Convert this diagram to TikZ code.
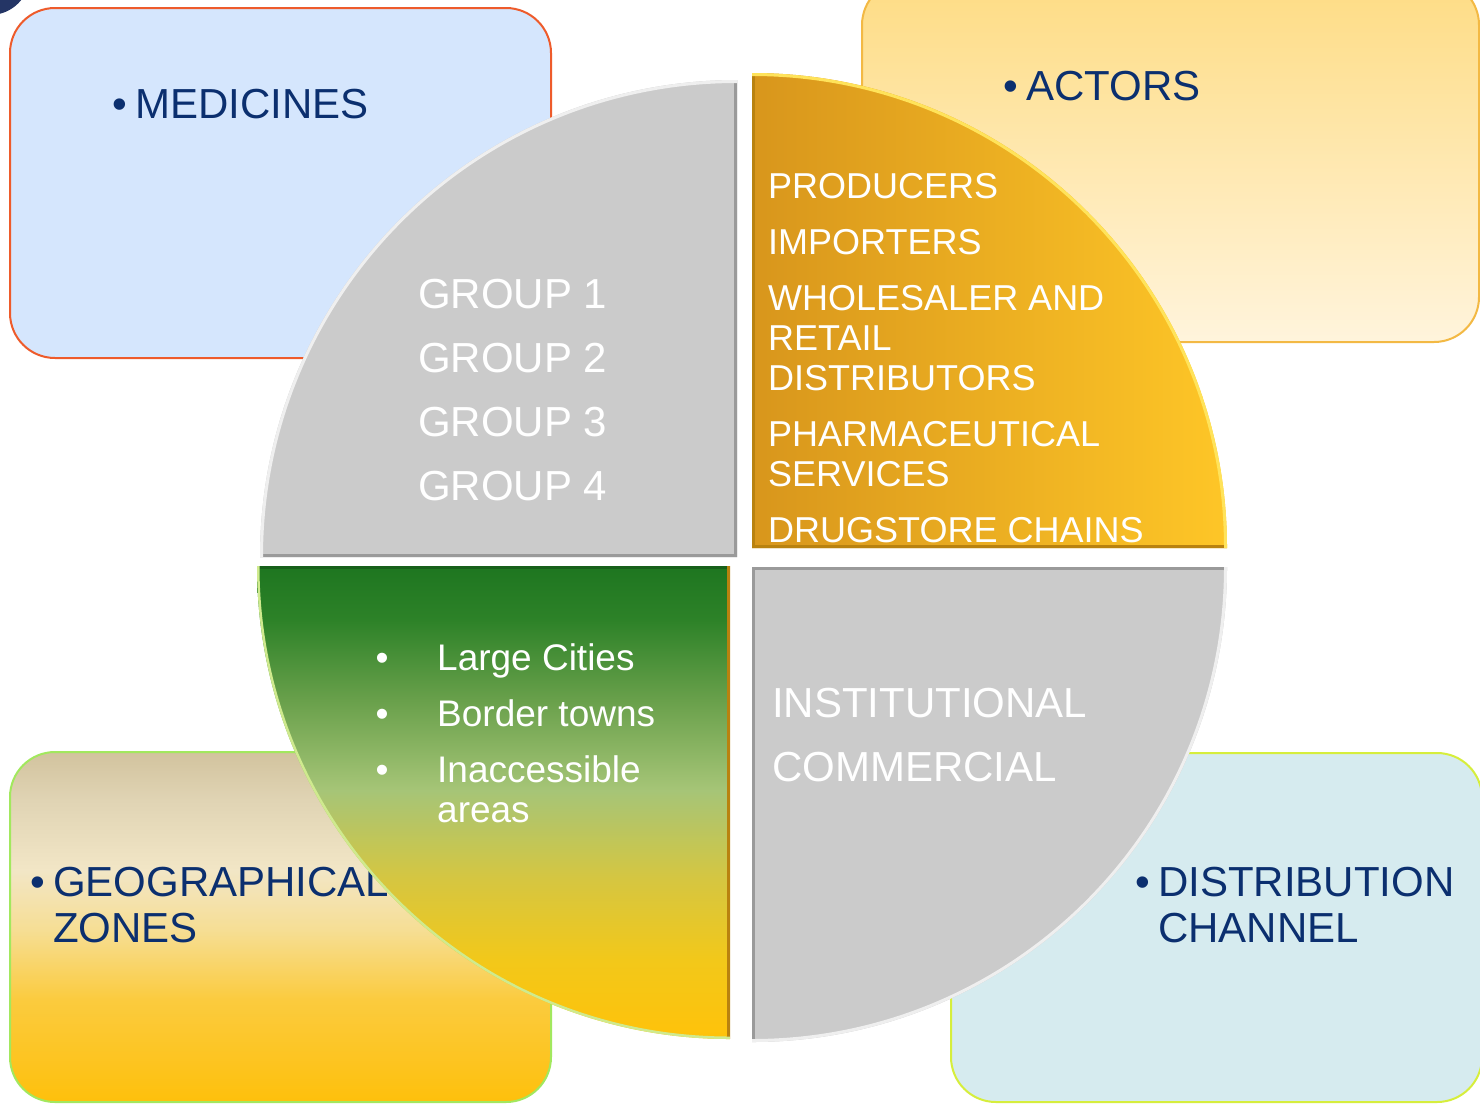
\documentclass[tikz,border=0pt]{standalone}
\usepackage{fontspec}
\setmainfont{Liberation Sans}
\usepackage{xcolor}
\usepackage{tikz}

\definecolor{navytext}{HTML}{0B2F6F}
\definecolor{medfill}{HTML}{D5E6FD}
\definecolor{medline}{HTML}{EE5B2B}
\definecolor{actline}{HTML}{F3B944}
\definecolor{acttop}{HTML}{FEDC84}
\definecolor{actbot}{HTML}{FFF4DC}
\definecolor{geoline}{HTML}{A2E85E}
\definecolor{distfill}{HTML}{D6EBEF}
\definecolor{distline}{HTML}{D6EE3C}
\definecolor{qgray}{HTML}{CBCBCB}
\definecolor{qgraydark}{HTML}{9A9A9A}
\definecolor{qgraylight}{HTML}{EFEFEF}
\definecolor{orleft}{HTML}{D8961C}
\definecolor{orright}{HTML}{FEC627}
\definecolor{ordark}{HTML}{B9820F}
\definecolor{orlight}{HTML}{FFE35A}
\definecolor{grdark}{HTML}{17601A}
\definecolor{grlight}{HTML}{CFEA8E}
\definecolor{cornerblue}{HTML}{243565}

\definecolor{geoA}{HTML}{FEC00C}
\definecolor{geoB}{HTML}{FBCB3E}
\definecolor{geoC}{HTML}{F6DE94}
\definecolor{geoD}{HTML}{F2E6C6}
\definecolor{geoE}{HTML}{E0D4B4}
\definecolor{geoF}{HTML}{D2C39E}
\pgfdeclareverticalshading{geoshade}{100bp}{color(0bp)=(geoA); color(25bp)=(geoA);
  color(39.6bp)=(geoB); color(49.6bp)=(geoC); color(58.1bp)=(geoD);
  color(68.1bp)=(geoE); color(75bp)=(geoF); color(100bp)=(geoF)}

\definecolor{grA}{HTML}{FFC20A}
\definecolor{grB}{HTML}{F2C81A}
\definecolor{grC}{HTML}{D6C640}
\definecolor{grD}{HTML}{A6C577}
\definecolor{grE}{HTML}{69A04B}
\definecolor{grF}{HTML}{2D8228}
\definecolor{grG}{HTML}{1E7620}
\pgfdeclareverticalshading{greenshade}{100bp}{color(0bp)=(grA); color(25bp)=(grA);
  color(33.4bp)=(grB); color(41.8bp)=(grC); color(51.3bp)=(grD);
  color(60.8bp)=(grE); color(69.3bp)=(grF); color(75bp)=(grG); color(100bp)=(grG)}

\tikzset{
  corner box/.style={rounded corners=45pt, line width=2pt},
  box label/.style={anchor=base west, inner sep=0pt, text=navytext,
    font=\fontsize{42}{46}\selectfont, align=left},
  box bullet/.style={anchor=base east, inner sep=0pt, text=navytext,
    font=\fontsize{42}{46}\selectfont},
  group label/.style={anchor=base west, inner sep=0pt, text=white,
    font=\fontsize{42}{64}\selectfont, align=left},
  actor label/.style={anchor=base west, inner sep=0pt, text=white,
    font=\fontsize{36}{40}\selectfont, align=left},
  zone label/.style={anchor=base west, inner sep=0pt, text=white,
    font=\fontsize{37}{40}\selectfont, align=left},
  zone bullet/.style={anchor=base, inner sep=0pt, text=white,
    font=\fontsize{37}{40}\selectfont},
}

\begin{document}
\begin{tikzpicture}[x=1pt,y=-1pt]
  \useasboundingbox (0,0) rectangle (1480,1104);
  \fill[white] (0,0) rectangle (1480,1104);
  \fill[cornerblue] (-10,-25) circle[radius=40];

  % corner boxes
  \draw[corner box, draw=medline, fill=medfill] (10,8) rectangle (551,358);
  \draw[corner box, draw=actline, top color=acttop, bottom color=actbot] (862,-20) rectangle (1479,342);
  \draw[corner box, draw=geoline, shading=geoshade] (10,752) rectangle (551,1102);
  \draw[corner box, draw=distline, fill=distfill] (951,753) rectangle (1482,1102);

  % multi-line nodes sit on the baseline of their last line
  \node[box label] (medicines) at (135,118) {MEDICINES};
  \node[box bullet] (medbullet) at (127,118) {•};
  \node[box label] (actors) at (1026,100) {ACTORS};
  \node[box bullet] (actbullet) at (1018,100) {•};
  \node[box label] (zones) at (53,942) {GEOGRAPHICAL\\ZONES};
  \node[box bullet] (zonebullet) at (45,896) {•};
  \node[box label] (channel) at (1158,942) {DISTRIBUTION\\CHANNEL};
  \node[box bullet] (chanbullet) at (1150,896) {•};

  % top left quarter
  \begin{scope}
    \clip (737,557) -- (260,557) arc[start angle=180,end angle=270,radius=477] -- cycle;
    \fill[qgray] (250,70) rectangle (740,560);
    \draw[qgraydark, line width=6pt] (260,557) -- (737,557) -- (737,80);
    \draw[qgraylight, line width=6pt] (260,557) arc[start angle=180,end angle=270,radius=477];
  \end{scope}

  % top right quarter
  \begin{scope}
    \clip (752,548) -- (752,73) arc[start angle=270,end angle=360,radius=475] -- cycle;
    \shade[left color=orleft, right color=orright] (752,73) rectangle (1227,548);
    \draw[ordark, line width=6pt] (1227,548) -- (752,548) -- (752,73);
    \draw[orlight, line width=6pt] (752,73) arc[start angle=270,end angle=360,radius=475];
  \end{scope}

  % bottom left quarter
  \begin{scope}
    \clip (730,566) -- (257,566) arc[start angle=180,end angle=90,radius=473] -- cycle;
    \shade[shading=greenshade] (257,566) rectangle (730,1039);
    \draw[grdark, line width=5pt] (257,566) -- (730,566);
    \draw[ordark, line width=6pt] (730,566) -- (730,1039);
    \draw[grlight, line width=5pt] (257,566) arc[start angle=180,end angle=90,radius=473];
  \end{scope}

  % bottom right quarter
  \begin{scope}
    \clip (752,567) -- (1227,567) arc[start angle=0,end angle=90,radius=475] -- cycle;
    \fill[qgray] (750,565) rectangle (1230,1045);
    \draw[qgraydark, line width=6pt] (1227,567) -- (752,567) -- (752,1042);
    \draw[qgraylight, line width=6pt] (1227,567) arc[start angle=0,end angle=90,radius=475];
  \end{scope}

  % quarter texts
  \node[group label] (groups) at (418,500) {GROUP 1\\GROUP 2\\GROUP 3\\GROUP 4};

  \node[actor label] (producers) at (768,198) {PRODUCERS};
  \node[actor label] (importers) at (768,254) {IMPORTERS};
  \node[actor label] (wholesale) at (768,390) {WHOLESALER AND\\RETAIL\\DISTRIBUTORS};
  \node[actor label] (pharma) at (768,486) {PHARMACEUTICAL\\SERVICES};
  \node[actor label] (chains) at (768,542) {DRUGSTORE CHAINS};

  \node[zone bullet] (cityb) at (382,670) {•};
  \node[zone bullet] (borderb) at (382,726) {•};
  \node[zone bullet] (inaccb) at (382,782) {•};
  \node[zone label] (cities) at (437,670) {Large Cities};
  \node[zone label] (border) at (437,726) {Border towns};
  \node[zone label] (inacc) at (437,822) {Inaccessible\\areas};

  \node[group label] (channels) at (772,781) {INSTITUTIONAL\\COMMERCIAL};
\end{tikzpicture}
\end{document}
